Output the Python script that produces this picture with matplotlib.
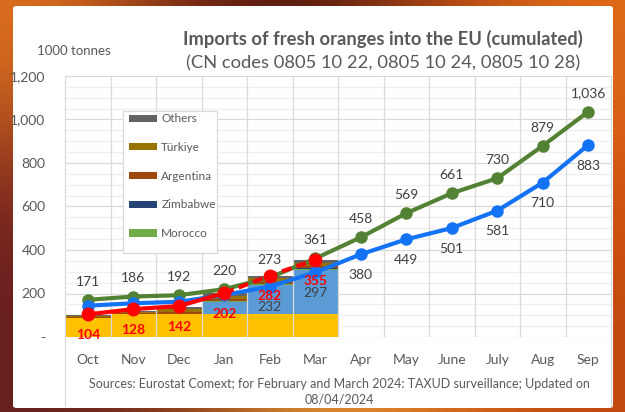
import numpy as np
import matplotlib
matplotlib.use("Agg")
import matplotlib.pyplot as plt
from matplotlib.patches import FancyBboxPatch, Rectangle
from matplotlib.lines import Line2D

plt.rcParams['font.family'] = ['Lato', 'DejaVu Sans']

months = ["Oct", "Nov", "Dec", "Jan", "Feb", "Mar", "Apr", "May", "June", "July", "Aug", "Sep"]

# cumulated totals, 1000 tonnes
green_vals = [171, 186, 192, 220, 273, 361, 458, 569, 661, 730, 879, 1036]
blue_vals = [144, 155, 162, 193, 232, 297, 380, 449, 501, 581, 710, 883]
blue_labels = [None, None, None, None, 232, 297, 380, 449, 501, 581, 710, 883]
red_vals = [104, 128, 142, 202, 282, 355]

# stacked bars by origin (Oct - Mar)
bar_months = months[:6]
south_africa = [86, 104, 104, 104, 104, 104]
egypt = [0, 0, 0, 58, 135, 204]
morocco = [1, 1, 2, 3, 3, 4]
zimbabwe = [1, 1, 2, 2, 3, 3]
argentina = [3, 4, 8, 9, 10, 10]
turkiye = [4, 4, 11, 13, 14, 16]
others = [7, 7, 11, 12, 12, 13]

W, H = 625, 412
fig = plt.figure(figsize=(W / 100, H / 100), dpi=100)

# background
bg = fig.add_axes([0, 0, 1, 1], zorder=-10)
cols = np.array([
    [[0.88, 0.45, 0.12], [0.45, 0.14, 0.08], [0.30, 0.10, 0.06], [0.70, 0.28, 0.08], [0.88, 0.42, 0.10]],
    [[0.45, 0.13, 0.12], [0.40, 0.12, 0.08], [0.35, 0.10, 0.06], [0.60, 0.20, 0.06], [0.82, 0.32, 0.06]],
    [[0.40, 0.12, 0.12], [0.55, 0.25, 0.10], [0.92, 0.62, 0.22], [0.85, 0.45, 0.12], [0.75, 0.28, 0.06]],
])
bg.imshow(cols, aspect='auto', interpolation='bicubic', extent=[0, 1, 0, 1])
bg.set_xlim(0, 1)
bg.set_ylim(0, 1)
bg.axis('off')

panel = FancyBboxPatch((13 / W, 4 / H), 600 / W, 402 / H,
                       boxstyle="round,pad=0,rounding_size=0.006",
                       transform=fig.transFigure, facecolor='white', edgecolor='none', zorder=-5)
fig.patches.append(panel)

left, right, top, bottom = 65, 611, 76, 337
ax = fig.add_axes([left / W, 1 - bottom / H, (right - left) / W, (bottom - top) / H])
x = np.arange(len(months))
xb = np.arange(len(bar_months))

layers = [
    (south_africa, '#FFC000', None),
    (egypt, '#5B9BD5', None),
    (morocco, '#70AD47', 'Morocco'),
    (zimbabwe, '#264478', 'Zimbabwe'),
    (argentina, '#9E480E', 'Argentina'),
    (turkiye, '#997300', 'Türkiye'),
    (others, '#636363', 'Others'),
]
base = np.zeros(len(bar_months))
handles = []
for vals, col, name in layers:
    b = ax.bar(xb, vals, width=1.0, bottom=base, color=col, edgecolor='none', zorder=1)
    base = base + np.array(vals)
    if name:
        handles.append((b, name))

# grid
ax.set_ylim(0, 1200)
ax.set_xlim(-0.5, 11.5)
for yv in np.arange(0, 1201, 50):
    c = '#d9d9d9' if yv % 200 == 0 else '#efefef'
    ax.axhline(yv, color=c, lw=0.9, zorder=0.5 if yv % 200 else 0.6)
for xv in np.arange(0.5, 11.5, 1):
    ax.axvline(xv, color='#d9d9d9', lw=0.9, zorder=1.5)

grey = '#404040'
ax.plot(x, green_vals, color='#548235', lw=3, marker='o', ms=8, zorder=4)
ax.plot(x, blue_vals, color='#1473F5', lw=3, marker='o', ms=8, zorder=4)
ax.plot(x[:4], red_vals[:4], color='#FF0000', lw=3, zorder=5)
ax.plot(x[3:6], red_vals[3:6], color='#FF0000', lw=3, ls=(0, (2.4, 1.3)),
        dash_capstyle='butt', zorder=5)
ax.plot(x[:6], red_vals, color='#FF0000', lw=0, marker='o', ms=9, zorder=5)

for i, v in enumerate(green_vals):
    ax.annotate(f"{v:,}", (i, v), xytext=(0, 13), textcoords='offset points',
                ha='center', va='center', fontsize=10, color=grey, zorder=6)
for i, v in enumerate(blue_labels):
    if v is not None:
        ax.annotate(f"{v:,}", (i, blue_vals[i]), xytext=(0, -15), textcoords='offset points',
                    ha='center', va='center', fontsize=10, color=grey, zorder=6)
for i, v in enumerate(red_vals):
    ax.annotate(f"{v:,}", (i, v), xytext=(0, -15), textcoords='offset points',
                ha='center', va='center', fontsize=10, color='#FF0000',
                fontweight='bold', zorder=6)

ax.set_yticks(np.arange(0, 1201, 200))
ax.set_yticklabels(['-' if v == 0 else f"{v:,}" for v in range(0, 1201, 200)])
ax.set_xticks(x)
ax.set_xticklabels(months)
ax.tick_params(length=0, labelsize=10, colors='#595959')
ax.tick_params(axis='y', pad=14)
ax.tick_params(axis='x', pad=12)
for s in ax.spines.values():
    s.set_visible(False)

# plot area side borders running down to the panel bottom
for px in (left, right):
    fig.add_artist(Line2D([px / W, px / W], [1 - top / H, 1 - 406 / H],
                          color='#d9d9d9', lw=0.9, transform=fig.transFigure))

# legend box
box = Rectangle((123 / W, 1 - 253 / H), 94 / W, 142 / H, transform=fig.transFigure,
                facecolor='white', edgecolor='#d9d9d9', lw=0.9, zorder=2)
fig.patches.append(box)
hs = [h for h, n in handles][::-1]
ns = [n for h, n in handles][::-1]
leg = fig.legend(hs, ns, loc='upper left', bbox_to_anchor=(127 / W, 1 - 111 / H),
                 borderaxespad=0, fontsize=8.5, labelcolor='#595959', frameon=False,
                 handlelength=2.3, handleheight=0.55, labelspacing=1.5,
                 borderpad=0.2, handletextpad=0.4)
leg.set_zorder(3)

fig.text(383 / W, 1 - 39 / H, "Imports of fresh oranges into the EU (cumulated)",
         ha='center', va='center', fontsize=13.2, fontweight='bold', color='#595959')
fig.text(383 / W, 1 - 63 / H, "(CN codes 0805 10 22, 0805 10 24, 0805 10 28)",
         ha='center', va='center', fontsize=13.2, color='#595959')
fig.text(74 / W, 1 - 51 / H, "1000 tonnes", ha='center', va='center', fontsize=9.5, color='#595959')
fig.text(339 / W, 1 - 384 / H,
         "Sources: Eurostat Comext; for February and March 2024: TAXUD surveillance; Updated on",
         ha='center', va='center', fontsize=9, color='#595959')
fig.text(339 / W, 1 - 400 / H, "08/04/2024", ha='center', va='center', fontsize=9, color='#595959')

fig.savefig("out.png", dpi=100)
